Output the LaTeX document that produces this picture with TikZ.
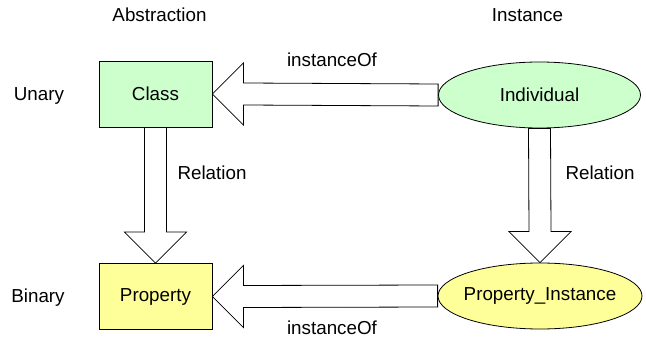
\documentclass[tikz,border=0pt]{standalone}
\usepackage{fontspec}
\setmainfont{Liberation Sans}
\usetikzlibrary{shapes.geometric}
\definecolor{classgreen}{RGB}{204,255,204}
\definecolor{propyellow}{RGB}{255,255,153}
\tikzset{
  x=1pt, y=-1pt,
  every node/.style={font=\fontsize{18.8}{22}\selectfont},
  conceptbox/.style={draw=black, line width=0.8pt, rectangle, minimum width=113pt, minimum height=66pt, inner sep=0pt},
  instellipse/.style={draw=black, line width=0.8pt, ellipse, minimum width=202pt, minimum height=66pt, inner xsep=-30pt, inner ysep=0pt},
  blockarrow/.style={draw=black, fill=white, line width=0.8pt, line join=miter},
  caption/.style={anchor=base, inner sep=0pt}
}
\begin{document}
\begin{tikzpicture}
\useasboundingbox (0,0) rectangle (646,339);

% column and row headings
\node[caption] (habs) at (159.5,22) {Abstraction};
\node[caption] (hinst) at (527.5,22) {Instance};
\node[caption] (hun) at (39,101) {Unary};
\node[caption] (hbin) at (38,303) {Binary};

% node centres
\path (155.5,94) coordinate (clsc)
      (155.5,296.5) coordinate (propc)
      (539.5,95) coordinate (indc)
      (540,296) coordinate (pic);

% outline-free copies of the nodes, used to build the arrows
\node[conceptbox, draw=none] (cls) at (clsc) {};
\node[conceptbox, draw=none] (prop) at (propc) {};
\node[instellipse, draw=none] (ind) at (indc) {};
\node[instellipse, draw=none, minimum width=204pt] (pi) at (pic) {};

% instanceOf: Individual -> Class
\draw[blockarrow] (cls.east) -- ++(31,-31) -- ++(0,20) -- ([yshift=11]ind.west)
  -- ([yshift=-11]ind.west) -- ([shift={(31,11)}]cls.east) -- ++(0,20) -- cycle;
% instanceOf: Property_Instance -> Property
\draw[blockarrow] (prop.east) -- ++(31,-31) -- ++(0,20) -- ([yshift=11]pi.west)
  -- ([yshift=-11]pi.west) -- ([shift={(31,11)}]prop.east) -- ++(0,20) -- cycle;
% Relation: Class -> Property
\draw[blockarrow] (prop.north) -- ++(-31,-31) -- ++(20,0) -- ([xshift=-11]cls.south)
  -- ([xshift=11]cls.south) -- ([shift={(11,-31)}]prop.north) -- ++(20,0) -- cycle;
% Relation: Individual -> Property_Instance
\draw[blockarrow] (pi.north) -- ++(-31,-31) -- ++(20,0) -- ([xshift=-11]ind.south)
  -- ([xshift=11]ind.south) -- ([shift={(11,-31)}]pi.north) -- ++(20,0) -- cycle;

% concept and instance nodes
\node[conceptbox, fill=classgreen] (clsbox) at (clsc) {Class};
\node[conceptbox, fill=propyellow] (propbox) at (propc) {Property};
\node[instellipse, fill=classgreen] (indbox) at (indc) {Individual};
\node[instellipse, fill=propyellow, minimum width=204pt] (pibox) at (pic) {Property\_Instance};

% arrow labels
\node[caption] (lio1) at (332,67) {instanceOf};
\node[caption] (lio2) at (332,335) {instanceOf};
\node[caption] (lrel1) at (212,180) {Relation};
\node[caption] (lrel2) at (600,180) {Relation};
\end{tikzpicture}
\end{document}
